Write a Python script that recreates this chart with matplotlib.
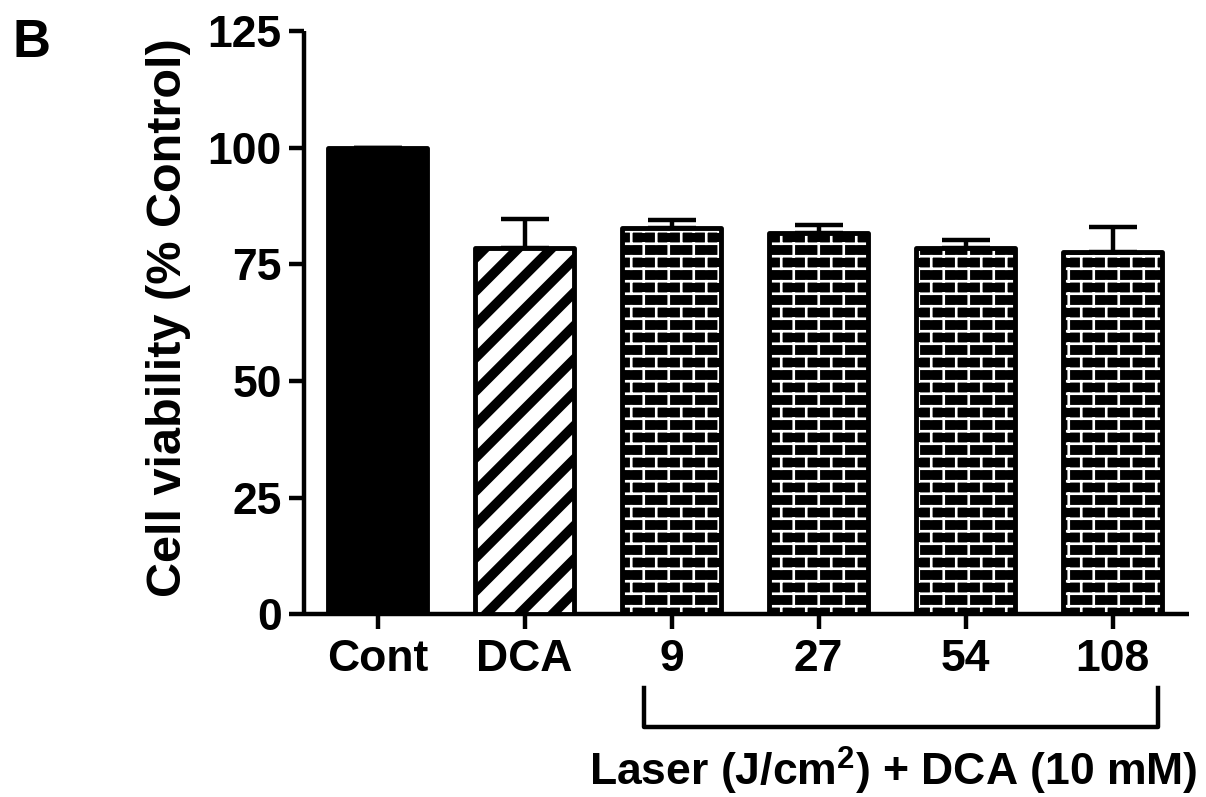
import warnings
warnings.filterwarnings('ignore')
import numpy as np
import matplotlib
matplotlib.use('Agg')
import matplotlib.pyplot as plt
import matplotlib.hatch as mhatch
import matplotlib.transforms as mtransforms
from matplotlib.path import Path

# ---------------- data ----------------
categories = ['Cont', 'DCA', '9', '27', '54', '108']
values = [100.0, 78.5, 82.8, 81.6, 78.5, 77.6]
errors = [0.0, 6.2, 1.7, 1.8, 1.7, 5.3]
fills = ['solid', 'diagonal', 'brick', 'brick', 'brick', 'brick']
y_ticks = [0, 25, 50, 75, 100, 125]
y_label = 'Cell viability (% Control)'
group_label = r'Laser (J/cm$^{2}$) + DCA (10 mM)'
group_span = (1.81, 5.31)
panel_letter = 'B'


# ---------------- custom hatch patterns ----------------
class PatternHatch(mhatch.HatchPatternBase):
    def __init__(self, hatch, density):
        segs = []
        if 'B' in hatch:
            rows, cols = 8, 4
            for r in range(rows):
                y = (r + 0.5) / rows
                segs.append(((-0.1, y), (1.1, y)))
            for r in range(-1, rows + 1):
                y0 = (r + 0.5) / rows
                y1 = (r + 1.5) / rows
                shift = 0.5 * (r % 2)
                for c in range(-1, cols + 1):
                    xx = (c + 0.25 + shift) / cols
                    segs.append(((xx, y0), (xx, y1)))
        if 'D' in hatch:
            n = 3
            for k in range(-n - 1, n + 2):
                segs.append(((-0.5, k / n - 0.5), (1.5, k / n + 1.5)))
        self.segs = np.array(segs, dtype=float).reshape(-1, 2, 2)
        self.num_vertices = 2 * len(segs)

    def set_vertices_and_codes(self, vertices, codes):
        vertices[0::2] = self.segs[:, 0]
        vertices[1::2] = self.segs[:, 1]
        codes[0::2] = Path.MOVETO
        codes[1::2] = Path.LINETO


mhatch._hatch_types.append(PatternHatch)

plt.rcParams['font.family'] = ['Liberation Sans', 'DejaVu Sans']
plt.rcParams['font.weight'] = 'bold'
plt.rcParams['mathtext.fontset'] = 'custom'
plt.rcParams['mathtext.rm'] = 'Liberation Sans:bold'
plt.rcParams['mathtext.bf'] = 'Liberation Sans:bold'
plt.rcParams['mathtext.it'] = 'Liberation Sans:bold'
plt.rcParams['mathtext.default'] = 'bf'

fig = plt.figure(figsize=(12.06, 7.97), dpi=100)
ax = fig.add_axes([0.2521, 0.2290, 0.9859 - 0.2521, 0.9614 - 0.2290])

x = np.arange(len(categories))
bar_w = 0.67
edge_lw = 3.5


def set_hlw(p, lw):
    if hasattr(p, 'set_hatch_linewidth'):
        p.set_hatch_linewidth(lw)
    else:
        plt.rcParams['hatch.linewidth'] = lw


bars = ax.bar(x, values, width=bar_w, color='white', edgecolor='black',
              linewidth=edge_lw, zorder=3)
brick_idx = []
for i, (p, style) in enumerate(zip(bars, fills)):
    p.set_joinstyle('round')
    if style == 'solid':
        p.set_facecolor('black')
    elif style == 'diagonal':
        p.set_hatch('D')
        set_hlw(p, 7.0)
    elif style == 'brick':
        p.set_facecolor('black')
        p.set_edgecolor('white')
        p.set_linewidth(0)
        p.set_hatch('B')
        set_hlw(p, 1.9)
        brick_idx.append(i)

bi = np.array(brick_idx)
outl = ax.bar(x[bi], np.array(values)[bi], width=bar_w, fill=False,
              edgecolor='black', linewidth=edge_lw, zorder=4)
for p in outl:
    p.set_joinstyle('round')

ax.errorbar(x, values, yerr=[np.zeros(len(values)), errors], fmt='none',
            ecolor='black', elinewidth=3.2, capsize=17.5, capthick=3.2,
            zorder=2)

ax.set_xlim(-0.5, 5.52)
ax.set_ylim(0, 125)
ax.set_yticks(y_ticks)
ax.set_xticks(x)
ax.set_xticklabels(categories)
for s in ['top', 'right']:
    ax.spines[s].set_visible(False)
for s in ['left', 'bottom']:
    ax.spines[s].set_linewidth(3.2)
    ax.spines[s].set_capstyle('butt')
ax.tick_params(axis='both', direction='out', length=11, width=3.2,
               labelsize=32)
ax.tick_params(axis='y', pad=5)
ax.tick_params(axis='x', pad=7)
for lab in ax.get_xticklabels() + ax.get_yticklabels():
    lab.set_fontweight('bold')

ax.set_ylabel(y_label, fontsize=35, fontweight='bold')
ax.yaxis.set_label_coords(-0.1537, 0.509)
ax.yaxis.label.set_va('center')

# bracket under laser groups
trans = mtransforms.blended_transform_factory(ax.transData, ax.transAxes)
ax.plot([group_span[0], group_span[0], group_span[1], group_span[1]],
        [-0.126, -0.1927, -0.1927, -0.126], color='black', linewidth=3.2,
        transform=trans, clip_on=False, solid_joinstyle='round')

fig.text(0.7405, 1 - 786 / 797, group_label, ha='center', va='baseline',
         fontsize=32, fontweight='bold')
fig.text(0.010, 1 - 57 / 797, panel_letter, ha='left', va='baseline',
         fontsize=38, fontweight='bold')

fig.savefig('out.png', dpi=100)
